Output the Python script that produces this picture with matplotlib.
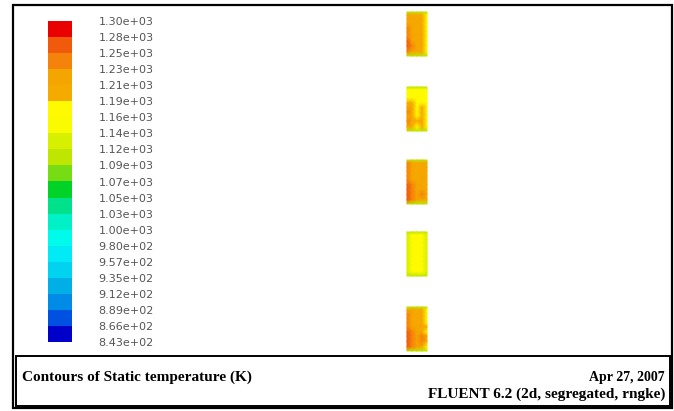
#Fluent contour plot of static temperature - recreation
import numpy as np
import matplotlib
matplotlib.use("Agg")
import matplotlib.pyplot as plt
from matplotlib.colors import ListedColormap, BoundaryNorm
from matplotlib.patches import Rectangle

#Contour levels (K), bottom to top as on the Fluent colour bar
levels = [843, 866, 889, 912, 935, 957, 980, 1000, 1030, 1050, 1070,
          1090, 1120, 1140, 1160, 1190, 1210, 1230, 1250, 1280, 1300]
level_labels = ["8.43e+02", "8.66e+02", "8.89e+02", "9.12e+02", "9.35e+02",
                "9.57e+02", "9.80e+02", "1.00e+03", "1.03e+03", "1.05e+03",
                "1.07e+03", "1.09e+03", "1.12e+03", "1.14e+03", "1.16e+03",
                "1.19e+03", "1.21e+03", "1.23e+03", "1.25e+03", "1.28e+03",
                "1.30e+03"]

#Node temperatures of the five blocks (rows top->bottom, cols left->right)
block1 = [[1105, 1110, 1110, 1110, 1105],
          [1220, 1205, 1195, 1205, 1170],
          [1225, 1210, 1195, 1210, 1175],
          [1220, 1205, 1190, 1205, 1170],
          [1230, 1215, 1195, 1215, 1175],
          [1235, 1215, 1195, 1210, 1170],
          [1245, 1220, 1200, 1215, 1175],
          [1255, 1225, 1200, 1215, 1170],
          [1265, 1230, 1205, 1220, 1175],
          [1245, 1220, 1195, 1210, 1170],
          [1105, 1110, 1110, 1110, 1105]]
block2 = [[1110, 1115, 1115, 1115, 1110],
          [1170, 1170, 1165, 1170, 1165],
          [1175, 1175, 1170, 1175, 1165],
          [1185, 1180, 1170, 1180, 1165],
          [1205, 1190, 1175, 1185, 1170],
          [1220, 1210, 1180, 1200, 1170],
          [1235, 1215, 1185, 1205, 1170],
          [1225, 1210, 1180, 1200, 1170],
          [1240, 1215, 1190, 1210, 1170],
          [1215, 1205, 1180, 1195, 1165],
          [1110, 1115, 1115, 1115, 1110]]
block3 = [[1110, 1115, 1115, 1115, 1110],
          [1230, 1215, 1205, 1215, 1190],
          [1235, 1220, 1205, 1220, 1195],
          [1230, 1215, 1200, 1215, 1190],
          [1240, 1220, 1205, 1220, 1195],
          [1245, 1225, 1205, 1220, 1190],
          [1250, 1230, 1210, 1225, 1195],
          [1260, 1230, 1205, 1225, 1190],
          [1275, 1240, 1215, 1230, 1195],
          [1255, 1230, 1210, 1225, 1190],
          [1110, 1115, 1115, 1115, 1110]]
block4 = [[1100, 1110, 1110, 1110, 1100],
          [1125, 1165, 1170, 1165, 1125],
          [1125, 1170, 1175, 1170, 1125],
          [1125, 1170, 1180, 1170, 1125],
          [1125, 1175, 1180, 1175, 1125],
          [1125, 1170, 1180, 1170, 1125],
          [1125, 1175, 1180, 1175, 1125],
          [1125, 1170, 1175, 1170, 1125],
          [1125, 1170, 1175, 1170, 1125],
          [1125, 1165, 1170, 1165, 1125],
          [1100, 1110, 1110, 1110, 1100]]
block5 = [[1110, 1115, 1115, 1115, 1110],
          [1225, 1210, 1195, 1210, 1180],
          [1230, 1215, 1200, 1215, 1185],
          [1235, 1220, 1205, 1220, 1185],
          [1240, 1220, 1200, 1220, 1185],
          [1245, 1225, 1210, 1225, 1190],
          [1250, 1230, 1205, 1225, 1185],
          [1255, 1230, 1215, 1230, 1190],
          [1270, 1240, 1220, 1235, 1190],
          [1250, 1230, 1210, 1225, 1185],
          [1110, 1115, 1115, 1115, 1110]]
blocks = [block1, block2, block3, block4, block5]
block_top = [12, 87, 160, 232, 307]   #pixel rows of block tops

#node positions inside one block (pixels)
col_nodes = np.array([407, 412, 417, 422, 427])
row_nodes = np.array([0, 3, 7, 11, 16, 20, 25, 29, 34, 40, 44])

#Fluent colour bar bands, bottom to top
band_colors = ["#0000c8", "#0050e1", "#008ce6", "#00afe6", "#00d2f0",
               "#00ebf5", "#00faeb", "#00f0c8", "#00e18c", "#00d228",
               "#78dc14", "#bee600", "#d7f000", "#fafa00", "#fffa00",
               "#f5aa00", "#f5a500", "#f5820a", "#f05a0a", "#eb0000"]
cmap = ListedColormap(band_colors)
norm = BoundaryNorm(levels, len(band_colors))

W, H = 674, 411
fig = plt.figure(figsize=(W / 100, H / 100), dpi=100)
ax = fig.add_axes([0, 0, 1, 1])
ax.set_xlim(0, W)
ax.set_ylim(H, 0)
ax.axis("off")

#frames
ax.add_patch(Rectangle((13, 5), 659, 403, fill=False, lw=1.6, ec="black"))
ax.add_patch(Rectangle((16, 356), 654, 50, fill=False, lw=1.4, ec="black"))

#the five blocks
for b, top in zip(blocks, block_top):
    X, Y = np.meshgrid(col_nodes, top + row_nodes)
    ax.pcolormesh(X, Y, np.array(b), cmap=cmap, norm=norm, shading="gouraud")

#colour bar
cax = fig.add_axes([48 / W, 1 - 342 / H, 24 / W, 321 / H])
cb = fig.colorbar(plt.cm.ScalarMappable(norm=norm, cmap=cmap), cax=cax,
                  ticks=levels, spacing="uniform")
cb.outline.set_visible(False)
cb.set_ticklabels(level_labels)
cax.tick_params(length=0, pad=19, labelsize=8, labelcolor="#555555")

#caption
serif = ["Liberation Serif", "DejaVu Serif"]
ax.text(22, 381, "Contours of Static temperature (K)", family=serif,
        weight="bold", fontsize=11, va="baseline")
ax.text(665, 381, "Apr 27, 2007", family=serif, weight="bold",
        fontsize=10, ha="right", va="baseline")
ax.text(665, 398, "FLUENT 6.2 (2d, segregated, rngke)", family=serif,
        weight="bold", fontsize=11, ha="right", va="baseline")

fig.savefig("out.png", dpi=100)
